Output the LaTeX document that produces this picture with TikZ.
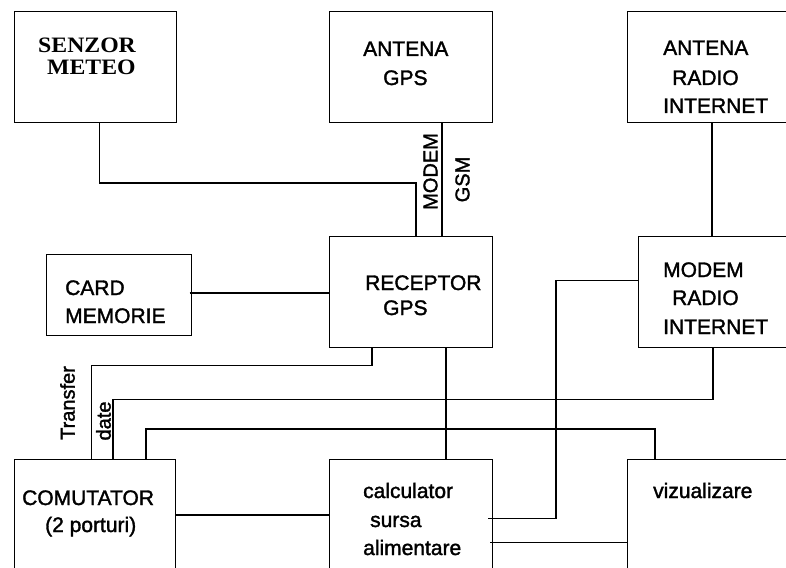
\documentclass[tikz,border=0pt]{standalone}
\usepackage{fontspec}
\setmainfont[BoldFont=Liberation Sans, BoldFeatures={FakeBold=1.6}]{Liberation Sans}
\newfontfamily\senzorfont[FakeStretch=1.08]{Liberation Serif Bold}
\begin{document}
\begin{tikzpicture}[x=1pt,y=-1pt,
  box/.style={draw, line width=1.1pt, rectangle, inner sep=0pt, anchor=north west},
  wire/.style={line width=1.1pt},
  lbl/.style={inner sep=0pt, anchor=base west, font=\fontsize{21}{25}\selectfont\bfseries},
  slbl/.style={inner sep=0pt, anchor=base west, font=\senzorfont\fontsize{22}{26}\selectfont},
  vlbl/.style={inner sep=0pt, rotate=90, font=\fontsize{20}{24}\selectfont\bfseries}]
\fill[white] (0,0) rectangle (786,567);
\useasboundingbox (0,0) rectangle (786,567);
% boxes
\node[box, minimum width=161.5pt, minimum height=110.5pt] (senzor) at (14,11) {};
\node[box, minimum width=162.5pt, minimum height=110.5pt] (antgps) at (329,11) {};
\node[box, minimum width=170pt, minimum height=110.5pt] (antradio) at (626.7,11) {};
\node[box, minimum width=162.5pt, minimum height=111pt] (receptor) at (329,236) {};
\node[box, minimum width=160pt, minimum height=111pt] (modem) at (638,236) {};
\node[box, minimum width=144.5pt, minimum height=81pt] (card) at (46,254) {};
\node[box, minimum width=160.5pt, minimum height=120pt] (comut) at (14,459) {};
\node[box, minimum width=162.5pt, minimum height=120pt] (calc) at (329,459) {};
\node[box, minimum width=170pt, minimum height=120pt] (viz) at (626.7,459) {};
% texts
\node[slbl] (t1) at (38,53) {SENZOR};
\node[slbl] (t2) at (47,75) {METEO};
\node[lbl] (t3) at (363,56) {ANTENA};
\node[lbl] (t4) at (383,85) {GPS};
\node[lbl] (t5) at (663,55) {ANTENA};
\node[lbl] (t6) at (672,85) {RADIO};
\node[lbl] (t7) at (663,113) {INTERNET};
\node[lbl] (t8) at (365,290) {RECEPTOR};
\node[lbl] (t9) at (383,315) {GPS};
\node[lbl] (t10) at (65,295) {CARD};
\node[lbl] (t11) at (65,323) {MEMORIE};
\node[lbl] (t12) at (663,277) {MODEM};
\node[lbl] (t13) at (672,305) {RADIO};
\node[lbl] (t14) at (663,334) {INTERNET};
\node[lbl] (t15) at (22,505) {COMUTATOR};
\node[lbl] (t16) at (45,532) {(2 porturi)};
\node[lbl] (t17) at (363,498) {calculator};
\node[lbl] (t18) at (370,527) {sursa};
\node[lbl] (t19) at (363,555) {alimentare};
\node[lbl] (t20) at (653,498) {vizualizare};
\node[vlbl] (t21) at (430.5,171.5) {MODEM};
\node[vlbl] (t22) at (462.5,179.5) {GSM};
\node[vlbl] (t23) at (67.5,403) {Transfer};
\node[vlbl] (t24) at (103.5,421) {date};
% bend points
\coordinate (c1) at (99.5,183);
\coordinate (c2) at (416,183);
\coordinate (c3) at (442,0);
\coordinate (c4) at (712,0);
\coordinate (c5) at (0,293);
\coordinate (c6) at (372,365.7);
\coordinate (c7) at (91.7,365.7);
\coordinate (c8) at (446,0);
\coordinate (c9) at (713,399.7);
\coordinate (c10) at (113,399.7);
\coordinate (c11) at (655,429);
\coordinate (c12) at (146,429);
\coordinate (c13) at (556,280.7);
\coordinate (c14) at (556,518.7);
\coordinate (c15) at (0,542.7);
\coordinate (c16) at (0,515);
% connectors
\draw[wire] (senzor.south -| c1) -- (c1) -- (c2) -- (receptor.north -| c2);
\draw[wire] (antgps.south -| c3) -- (receptor.north -| c3);
\draw[wire] (antradio.south -| c4) -- (modem.north -| c4);
\draw[wire] ([xshift=-2pt]card.east |- c5) -- (receptor.west |- c5);
\draw[wire] (receptor.south -| c6) -- (c6) -- (c7) -- (comut.north -| c7);
\draw[wire] (receptor.south -| c8) -- (calc.north -| c8);
\draw[wire] (modem.south -| c9) -- (c9) -- (c10) -- (comut.north -| c10);
\draw[wire] (viz.north -| c11) -- (c11) -- (c12) -- (comut.north -| c12);
\draw[wire] (modem.west |- c13) -- (c13) -- (c14) -- ([xshift=-4.5pt]calc.east |- c14);
\draw[wire] (viz.west |- c15) -- ([xshift=-2.5pt]calc.east |- c15);
\draw[wire] (comut.east |- c16) -- (calc.west |- c16);
\end{tikzpicture}
\end{document}
